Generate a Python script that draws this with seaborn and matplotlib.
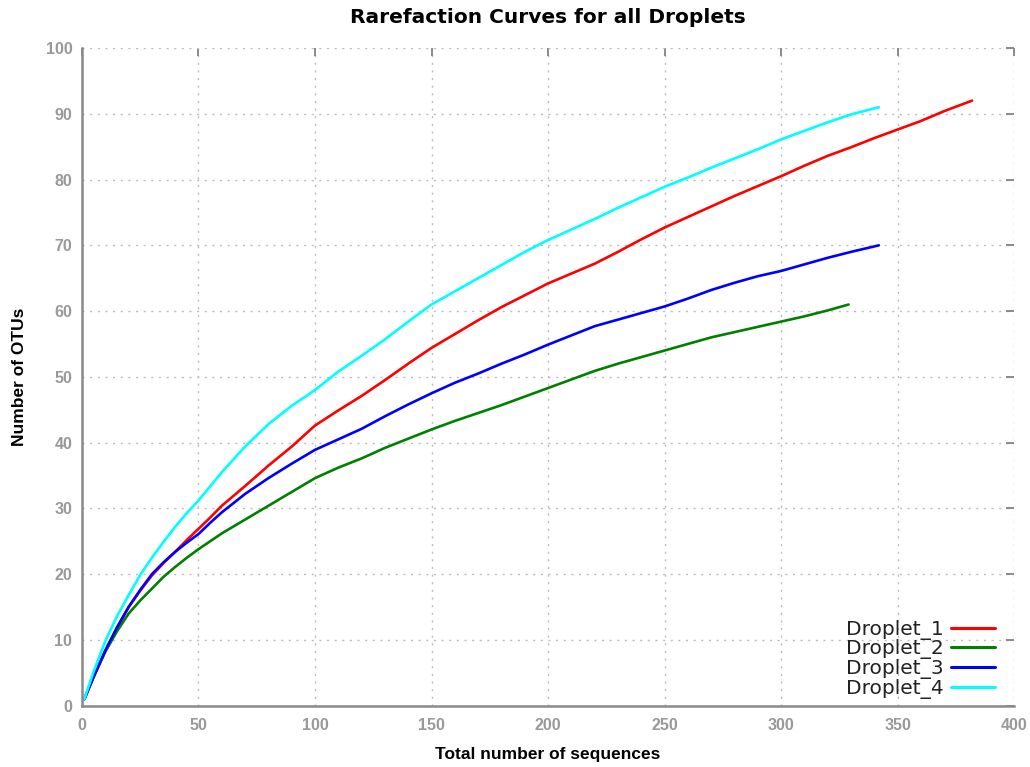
import numpy as np
import pandas as pd
import matplotlib
matplotlib.use("Agg")
import matplotlib.pyplot as plt
import seaborn as sns

# Rarefaction data: sequences sampled vs. observed OTUs
d1_x = [1, 5, 10, 15, 20, 25, 30, 35, 40, 45, 50, 55, 60, 70, 80, 90, 100, 110, 120, 130,
        140, 150, 160, 170, 180, 190, 200, 210, 220, 230, 240, 250, 260, 270, 280, 290,
        300, 310, 320, 330, 340, 350, 360, 370, 382]
d1_y = [1, 4.4, 8.3, 11.8, 15.0, 17.5, 19.8, 21.7, 23.4, 25.2, 26.9, 28.6, 30.4, 33.4, 36.5,
        39.4, 42.6, 44.9, 47.1, 49.5, 52.0, 54.4, 56.5, 58.6, 60.6, 62.4, 64.2, 65.7, 67.2,
        69.0, 70.9, 72.7, 74.3, 75.9, 77.5, 79.0, 80.5, 82.1, 83.6, 84.9, 86.3, 87.6, 88.9,
        90.4, 92.0]

d2_x = [1, 5, 10, 15, 20, 25, 30, 35, 40, 45, 50, 55, 60, 70, 80, 90, 100, 110, 120, 130,
        140, 150, 160, 170, 180, 190, 200, 210, 220, 230, 240, 250, 260, 270, 280, 290,
        300, 310, 320, 329]
d2_y = [1, 4.4, 8.2, 11.3, 14.0, 16.0, 17.8, 19.6, 21.1, 22.5, 23.8, 25.0, 26.2, 28.3, 30.4,
        32.5, 34.6, 36.2, 37.6, 39.2, 40.6, 42.0, 43.3, 44.5, 45.7, 47.0, 48.3, 49.6, 50.9,
        52.0, 53.0, 54.0, 55.0, 56.0, 56.8, 57.6, 58.4, 59.2, 60.1, 61.0]

d3_x = [1, 5, 10, 15, 20, 25, 30, 35, 40, 45, 50, 55, 60, 70, 80, 90, 100, 110, 120, 130,
        140, 150, 160, 170, 180, 190, 200, 210, 220, 230, 240, 250, 260, 270, 280, 290,
        300, 310, 320, 330, 342]
d3_y = [1, 4.4, 8.4, 11.9, 15.0, 17.6, 20.0, 21.8, 23.4, 24.8, 26.1, 27.8, 29.4, 32.2, 34.6,
        36.8, 38.9, 40.5, 42.1, 44.0, 45.8, 47.5, 49.1, 50.5, 52.0, 53.4, 54.9, 56.3, 57.7,
        58.7, 59.7, 60.7, 61.9, 63.2, 64.3, 65.3, 66.1, 67.1, 68.1, 69.0, 70.0]

d4_x = [1, 5, 10, 15, 20, 25, 30, 35, 40, 45, 50, 60, 70, 80, 90, 100, 110, 120, 130, 140,
        150, 160, 170, 180, 190, 200, 210, 220, 230, 240, 250, 260, 270, 280, 290, 300,
        310, 320, 330, 342]
d4_y = [1, 5.2, 9.8, 13.6, 16.8, 19.9, 22.5, 24.9, 27.2, 29.3, 31.2, 35.5, 39.4, 42.8, 45.6,
        48.0, 50.8, 53.2, 55.7, 58.4, 61.0, 63.0, 65.0, 67.0, 69.0, 70.8, 72.4, 74.0, 75.7,
        77.3, 78.9, 80.3, 81.8, 83.2, 84.6, 86.1, 87.4, 88.7, 89.9, 91.0]

samples = ["Droplet_1", "Droplet_2", "Droplet_3", "Droplet_4"]
colors = ["#ff0000", "#008000", "#0000ff", "#00ffff"]
x_ticks = [0, 50, 100, 150, 200, 250, 300, 350, 400]
y_ticks = [0, 10, 20, 30, 40, 50, 60, 70, 80, 90, 100]

frames = []
for name, xs, ys in zip(samples, [d1_x, d2_x, d3_x, d4_x], [d1_y, d2_y, d3_y, d4_y]):
    frames.append(pd.DataFrame({"seqs": xs, "otus": ys, "sample": name}))
df = pd.concat(frames, ignore_index=True)

sns.set_style("white")
plt.rcParams["font.family"] = ["Liberation Sans", "DejaVu Sans"]

fig = plt.figure(figsize=(10.30, 7.67), dpi=100)
ax = fig.add_axes([0.0796, 0.0799, 0.9049, 0.8575])

sns.lineplot(data=df, x="seqs", y="otus", hue="sample", hue_order=samples,
             palette=dict(zip(samples, colors)), linewidth=1.9, ax=ax,
             estimator=None, sort=False)

ax.set_xlim(0, 400)
ax.set_ylim(0, 100)
ax.set_xticks(x_ticks)
ax.set_yticks(y_ticks)

axis_grey = "#8a8a8a"
for side in ["top", "right"]:
    ax.spines[side].set_visible(False)
for side in ["left", "bottom"]:
    ax.spines[side].set_color(axis_grey)
    ax.spines[side].set_linewidth(1.8)

ax.tick_params(axis="both", which="major", direction="in", length=6, width=1.4,
               color=axis_grey, labelcolor="#999999", labelsize=11.5,
               top=True, right=True, pad=9)
ax.tick_params(axis="y", pad=7)
for lbl in ax.get_xticklabels() + ax.get_yticklabels():
    lbl.set_fontweight("bold")

ax.grid(True, linestyle=(0, (1.5, 4)), color="#bdbdbd", linewidth=1.0)

ax.set_xlabel("Total number of sequences", fontsize=12.5, fontweight="bold",
              color="black", labelpad=10)
ax.set_ylabel("Number of OTUs", fontsize=12.5, fontweight="bold",
              color="black", labelpad=13)
ax.set_title("Rarefaction Curves for all Droplets", fontsize=14.5,
             fontweight="heavy", family=["DejaVu Sans"], color="black", pad=18)

leg = ax.legend(loc="lower right", bbox_to_anchor=(0.9914, -0.006),
                frameon=False, markerfirst=False,
                prop={"family": "DejaVu Sans", "size": 14.5}, labelspacing=-0.02,
                handlelength=2.2, handletextpad=0.35, borderaxespad=0.15)
for t in leg.get_texts():
    t.set_color("#222222")
for h in leg.get_lines():
    h.set_linewidth(2.2)

fig.savefig("out.png", dpi=100)
